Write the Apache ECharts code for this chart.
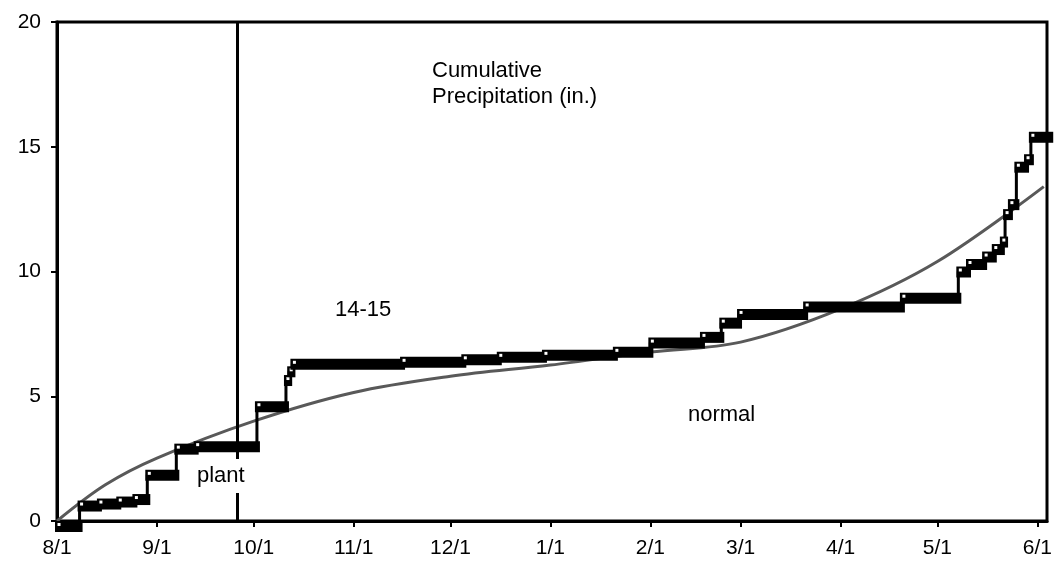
<!DOCTYPE html>
<html><head><meta charset="utf-8">
<script src="https://cdn.jsdelivr.net/npm/echarts@6/dist/echarts.min.js"></script>
<style>html,body{margin:0;padding:0;background:#fff}#c{width:1059px;height:562px}</style>
</head><body><div id="c"></div>
<script>
// x positions are days since 8/1
const monthDays   = [0, 31, 61, 92, 122, 153, 184, 212, 243, 273, 304];
const monthLabels = ['8/1','9/1','10/1','11/1','12/1','1/1','2/1','3/1','4/1','5/1','6/1'];
const axisMaxDay = 307;

// 14-15 cumulative precipitation: day of each change and the new level
const precipDays   = [0, 7, 13, 19, 24, 28, 37, 43, 62, 71, 72, 73, 107, 126, 137, 151, 173, 184, 200, 206, 211.5, 232, 262, 279.5, 282.5, 287.5, 290.5, 293, 294, 295.5, 297.5, 300.5, 302];
const precipValues = [-0.2, 0.62, 0.7, 0.78, 0.88, 1.85, 2.9, 3.0, 4.6, 5.65, 6.0, 6.3, 6.38, 6.48, 6.58, 6.66, 6.78, 7.15, 7.38, 7.95, 8.3, 8.6, 8.95, 10.0, 10.3, 10.6, 10.9, 11.2, 12.3, 12.7, 14.2, 14.5, 15.4];
const precipEndDay = 308;

// normal cumulative precipitation
const normalDays   = [0, 15, 31, 61, 92, 122, 153, 184, 212, 243, 273, 306];
const normalValues = [0, 1.45, 2.52, 4.0, 5.15, 5.8, 6.25, 6.77, 7.17, 8.5, 10.4, 13.4];

const plantDay = 56;

const stepData = precipDays.map((d, i) => [d, precipValues[i]]);
const bandData = precipDays.map((d, i) => [d, precipValues[i], i + 1 < precipDays.length ? precipDays[i + 1] : precipEndDay]);
const normalData = normalDays.map((d, i) => [d, normalValues[i]]);

const chart = echarts.init(document.getElementById('c'), null, {renderer: 'canvas'});
const FONT = '"Liberation Sans", Arial, sans-serif';
chart.setOption({
  animation: false,
  backgroundColor: '#fff',
  grid: {left: 57, right: 12, top: 22, bottom: 41, show: true, borderColor: '#000', borderWidth: 3, backgroundColor: 'transparent'},
  xAxis: {
    type: 'value', min: 0, max: axisMaxDay,
    splitLine: {show: false},
    axisLine: {show: true, onZero: false, lineStyle: {color: '#000', width: 3}},
    axisTick: {show: true, customValues: monthDays, length: 6, lineStyle: {color: '#000', width: 2}},
    axisLabel: {show: true, customValues: monthDays, color: '#000', fontSize: 21, fontFamily: FONT, margin: 17,
      formatter: v => monthLabels[monthDays.indexOf(v)] || ''}
  },
  yAxis: {
    type: 'value', min: 0, max: 20, interval: 5,
    splitLine: {show: false},
    axisLine: {show: true, lineStyle: {color: '#000', width: 3}},
    axisTick: {show: true, length: 6, lineStyle: {color: '#000', width: 2}},
    axisLabel: {color: '#000', fontSize: 21, fontFamily: FONT, margin: 16}
  },
  series: [
    {
      type: 'line', name: 'normal', data: normalData, smooth: 0.35,
      showSymbol: false, lineStyle: {color: '#595959', width: 3}, z: 2,
      markLine: {
        silent: true, symbol: 'none', label: {show: false},
        lineStyle: {color: '#000', width: 3, type: 'solid'},
        data: [{xAxis: plantDay}]
      }
    },
    {
      type: 'line', name: '14-15 step', data: stepData, step: 'end',
      showSymbol: false, lineStyle: {color: '#000', width: 3}, z: 3, clip: false
    },
    {
      type: 'custom', name: '14-15', data: bandData, z: 4, clip: false,
      renderItem: (params, api) => {
        const d0 = api.value(0), v = api.value(1), d1 = api.value(2);
        const p0 = api.coord([d0, v]);
        const p1 = api.coord([d1, v]);
        const h = 11;
        return {
          type: 'group',
          children: [
            {type: 'rect', shape: {x: p0[0] - 2, y: p0[1] - h / 2 + 0.5, width: Math.max(p1[0] - p0[0] + 5, 7), height: h}, style: {fill: '#000'}},
            {type: 'rect', shape: {x: p0[0] + 0.5, y: p0[1] - 3, width: 3, height: 3}, style: {fill: '#fff'}}
          ]
        };
      }
    }
  ],
  graphic: [
    {type: 'text', left: 432, top: 58, z: 100, style: {text: 'Cumulative\nPrecipitation (in.)', font: '22px ' + FONT, fill: '#000', lineHeight: 26}},
    {type: 'text', left: 335, top: 299, z: 100, style: {text: '14-15', font: '22px ' + FONT, fill: '#000'}},
    {type: 'text', left: 688, top: 404, z: 100, style: {text: 'normal', font: '22px ' + FONT, fill: '#000'}},
    {type: 'text', left: 194, top: 459, z: 100, style: {text: 'plant', font: '22px ' + FONT, fill: '#000', backgroundColor: '#fff', padding: [6, 3, 6, 3]}}
  ]
});
</script>
</body></html>
